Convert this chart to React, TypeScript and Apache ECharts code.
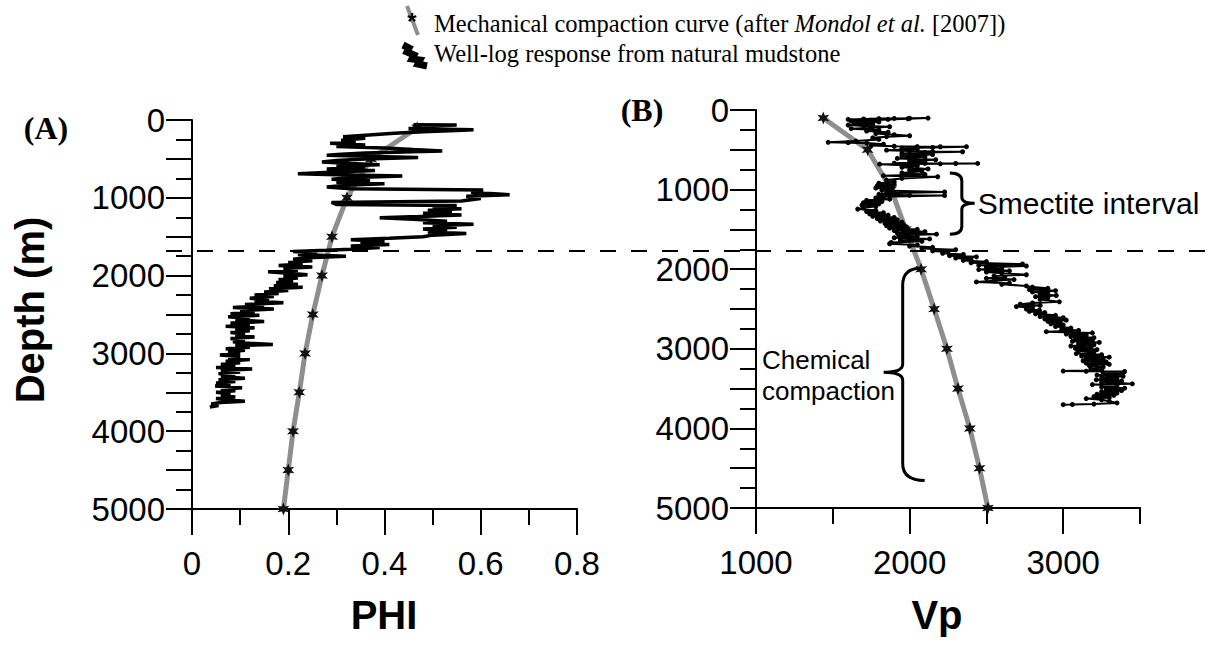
import React, { useEffect, useRef } from "react";
import * as echarts from "echarts";

// ---------- axis ticks / labels ----------
const DEPTH_MAJOR_TICKS = [0, 500, 1000, 1500, 2000, 2500, 3000, 3500, 4000, 4500, 5000];
const DEPTH_MINOR_TICKS = [250, 750, 1250, 1750, 2250, 2750, 3250, 3750, 4250, 4750];
const DEPTH_LABELS = [0, 1000, 2000, 3000, 4000, 5000];
const PHI_MAJOR_TICKS = [0, 0.2, 0.4, 0.6, 0.8];
const PHI_MINOR_TICKS = [0.1, 0.3, 0.5, 0.7];
const PHI_LABELS = [0, 0.2, 0.4, 0.6, 0.8];
const VP_MAJOR_TICKS = [1000, 2000, 3000];
const VP_MINOR_TICKS = [1500, 2500, 3500];
const VP_LABELS = [1000, 2000, 3000];

// ---------- mechanical compaction curve (Mondol et al. 2007) ----------
const COMPACTION_DEPTH = [100, 500, 1000, 1500, 2000, 2500, 3000, 3500, 4000, 4500, 5000];
const COMPACTION_PHI = [0.468, 0.372, 0.322, 0.291, 0.27, 0.251, 0.235, 0.223, 0.21, 0.2, 0.19];
const COMPACTION_VP = [1438, 1727, 1880, 1975, 2075, 2160, 2243, 2315, 2392, 2455, 2510];

// ---------- well-log PHI: [depth, phi] ----------
const WELL_LOG_PHI = [
  [60, 0.46], [65, 0.55], [80, 0.47], [95, 0.5], [110, 0.45], [125, 0.585], [135, 0.55], [150, 0.48],
  [170, 0.42], [195, 0.36], [215, 0.314], [235, 0.36], [260, 0.31], [285, 0.34], [300, 0.287], [320, 0.36],
  [340, 0.3], [360, 0.4], [380, 0.46], [398, 0.52], [410, 0.44], [425, 0.36], [440, 0.31], [452, 0.28],
  [468, 0.38], [482, 0.47], [500, 0.36], [520, 0.3], [540, 0.27], [560, 0.33], [575, 0.39], [590, 0.3],
  [610, 0.36], [630, 0.28], [650, 0.38], [665, 0.31], [690, 0.22], [705, 0.3], [720, 0.437], [740, 0.34],
  [760, 0.29], [780, 0.37], [800, 0.3], [820, 0.4], [840, 0.32], [860, 0.28], [885, 0.33], [900, 0.605],
  [930, 0.58], [960, 0.66], [980, 0.57], [1010, 0.6], [1040, 0.56], [1060, 0.29], [1085, 0.3], [1100, 0.55],
  [1120, 0.5], [1140, 0.56], [1160, 0.49], [1180, 0.54], [1200, 0.48], [1220, 0.56], [1240, 0.47], [1255, 0.39],
  [1275, 0.46], [1300, 0.53], [1320, 0.48], [1340, 0.585], [1360, 0.5], [1380, 0.55], [1400, 0.48], [1420, 0.53],
  [1440, 0.49], [1460, 0.57], [1480, 0.5], [1500, 0.48], [1520, 0.41], [1540, 0.33], [1560, 0.4], [1580, 0.35],
  [1600, 0.41], [1620, 0.33], [1640, 0.39], [1660, 0.33], [1675, 0.28], [1690, 0.21], [1710, 0.26], [1730, 0.22],
  [1750, 0.32], [1770, 0.24], [1790, 0.21], [1810, 0.25], [1830, 0.2], [1850, 0.23], [1870, 0.18], [1890, 0.25],
  [1910, 0.19], [1930, 0.22], [1950, 0.158], [1970, 0.2], [1990, 0.24], [2010, 0.19], [2030, 0.22], [2050, 0.18],
  [2070, 0.21], [2090, 0.175], [2110, 0.22], [2130, 0.17], [2150, 0.23], [2170, 0.16], [2190, 0.2], [2210, 0.15],
  [2230, 0.18], [2250, 0.13], [2270, 0.17], [2290, 0.12], [2310, 0.16], [2330, 0.13], [2350, 0.19], [2370, 0.11],
  [2390, 0.15], [2410, 0.085], [2430, 0.17], [2450, 0.1], [2470, 0.13], [2490, 0.08], [2510, 0.14], [2530, 0.075],
  [2550, 0.12], [2570, 0.09], [2590, 0.15], [2610, 0.08], [2630, 0.12], [2650, 0.07], [2670, 0.13], [2690, 0.09],
  [2710, 0.12], [2730, 0.08], [2750, 0.11], [2770, 0.09], [2790, 0.13], [2810, 0.08], [2830, 0.11], [2850, 0.085],
  [2870, 0.12], [2885, 0.168], [2900, 0.09], [2920, 0.12], [2940, 0.07], [2960, 0.11], [2980, 0.075], [3000, 0.1],
  [3020, 0.058], [3040, 0.1], [3060, 0.075], [3080, 0.12], [3100, 0.07], [3120, 0.1], [3140, 0.06], [3160, 0.09],
  [3180, 0.05], [3200, 0.125], [3220, 0.06], [3240, 0.1], [3260, 0.055], [3280, 0.09], [3300, 0.06], [3320, 0.11],
  [3340, 0.055], [3360, 0.09], [3380, 0.05], [3400, 0.08], [3420, 0.048], [3440, 0.104], [3460, 0.06], [3480, 0.09],
  [3500, 0.05], [3520, 0.08], [3540, 0.06], [3560, 0.09], [3580, 0.05], [3600, 0.075], [3615, 0.11], [3630, 0.06],
  [3650, 0.04], [3670, 0.055], [3690, 0.037],
];

// ---------- well-log Vp: [depth, vp] ----------
const WELL_LOG_VP = [
  [118, 1600], [112, 1700], [108, 1800], [106, 1900], [104, 2000], [102, 2120], [110, 1990], [118, 1860],
  [128, 1750], [140, 1620], [150, 1800], [160, 1640], [175, 1760], [190, 1600], [200, 1700], [210, 1870],
  [222, 1750], [235, 1620], [250, 1800], [265, 1720], [280, 1860], [295, 1780], [310, 1900], [323, 2000],
  [335, 1850], [350, 1760], [370, 1800], [390, 1650], [406, 1470], [410, 1600], [415, 1720], [430, 1830],
  [445, 1750], [455, 1900], [460, 2050], [462, 2200], [461, 2370], [470, 2150], [478, 1950], [490, 2050],
  [505, 1850], [515, 2000], [520, 2150], [524, 2345], [535, 2100], [545, 1950], [560, 2150], [575, 1950],
  [590, 2100], [608, 1920], [625, 2170], [640, 2000], [655, 2100], [668, 1900], [671, 2100], [672, 2300],
  [671, 2443], [676, 2200], [680, 1805], [700, 2050], [720, 1950], [740, 2120], [755, 2000], [770, 2080],
  [790, 1950], [810, 2100], [825, 1830], [839, 2183], [860, 1950], [880, 1850], [900, 1900], [920, 1800],
  [935, 1900], [950, 1790], [965, 1880], [980, 1780], [995, 1870], [1010, 1820], [1030, 2228], [1045, 1850],
  [1060, 1800], [1072, 2000], [1075, 2228], [1090, 1820], [1105, 1780], [1120, 1870], [1135, 1720], [1150, 1820],
  [1165, 1700], [1180, 1800], [1195, 1690], [1210, 1780], [1230, 1700], [1245, 1662], [1260, 1780], [1275, 1720],
  [1290, 1830], [1305, 1740], [1320, 1860], [1335, 1760], [1350, 1900], [1365, 1790], [1380, 1920], [1395, 1810],
  [1410, 1950], [1425, 1840], [1440, 1960], [1455, 1850], [1470, 1980], [1485, 1870], [1500, 2050], [1515, 1900],
  [1530, 2100], [1545, 1920], [1560, 2175], [1575, 1930], [1590, 2050], [1605, 1900], [1620, 2130], [1635, 1940],
  [1650, 2080], [1665, 1880], [1680, 1870], [1695, 2050], [1710, 2000], [1725, 2150], [1740, 2080], [1755, 2300],
  [1770, 2150], [1785, 2250], [1800, 2215], [1815, 2350], [1830, 2260], [1845, 2435], [1860, 2300], [1875, 2400],
  [1890, 2350], [1905, 2500], [1920, 2400], [1935, 2735], [1950, 2450], [1960, 2760], [1975, 2500], [1990, 2600],
  [2005, 2450], [2020, 2650], [2035, 2500], [2050, 2600], [2070, 2760], [2085, 2550], [2100, 2620], [2115, 2500],
  [2130, 2680], [2145, 2550], [2160, 2435], [2175, 2650], [2190, 2600], [2210, 2760], [2225, 2800], [2240, 2900],
  [2255, 2780], [2270, 2950], [2285, 2800], [2300, 2900], [2315, 2850], [2330, 2955], [2345, 2820], [2360, 2900],
  [2380, 2850], [2410, 2975], [2425, 2800], [2440, 2720], [2455, 2850], [2470, 2695], [2485, 2800], [2500, 2760],
  [2515, 2845], [2530, 2780], [2545, 2880], [2560, 2820], [2580, 2950], [2595, 2850], [2610, 3000], [2625, 2880],
  [2640, 3020], [2655, 2900], [2670, 2980], [2685, 2920], [2700, 3000], [2720, 2950], [2740, 3050], [2755, 2990],
  [2770, 3100], [2785, 2890], [2800, 3190], [2815, 3020], [2830, 3150], [2845, 3050], [2860, 3200], [2875, 3080],
  [2890, 3190], [2905, 3060], [2920, 3235], [2935, 3100], [2950, 3200], [2965, 3050], [2980, 3180], [2995, 3080],
  [3010, 3220], [3025, 3100], [3040, 3200], [3060, 3085], [3075, 3250], [3090, 3120], [3105, 3300], [3120, 3150],
  [3135, 3260], [3150, 3130], [3165, 3280], [3180, 3150], [3195, 3300], [3210, 3170], [3230, 3260], [3250, 3180],
  [3265, 3250], [3280, 3000], [3282, 3150], [3285, 3400], [3300, 3260], [3315, 3380], [3330, 3220], [3345, 3390],
  [3360, 3250], [3375, 3350], [3390, 3215], [3405, 3380], [3420, 3250], [3440, 3450], [3450, 3190], [3465, 3350],
  [3480, 3250], [3495, 3400], [3510, 3280], [3525, 3380], [3540, 3250], [3555, 3350], [3570, 3220], [3585, 3330],
  [3600, 3200], [3615, 3300], [3625, 3150], [3640, 3250], [3660, 3300], [3680, 3350], [3695, 3200], [3700, 3060],
  [3702, 3000],
];

// ---------- annotations (data units) ----------
const DASHED_DEPTH_A = 1685;
const SMECTITE_BRACE = { top: 790, mid: 1170, bottom: 1560, vp: 2340, hookVp: 2262, tipVp: 2424 };
const CHEMICAL_BRACE = { top: 1987, mid: 3296, bottom: 4654, vp: 1955, hookTopVp: 2072, hookBottomVp: 2098, tipVp: 1831 };

const SANS = "Liberation Sans, Arial, Helvetica, sans-serif";
const SERIF = "Liberation Serif, Times New Roman, Times, serif";
const STAR =
  "path://M0,-1L0.225,-0.39L0.866,-0.5L0.45,0L0.866,0.5L0.225,0.39L0,1L-0.225,0.39L-0.866,0.5L-0.45,0L-0.866,-0.5L-0.225,-0.39Z";
const GRAY = "#8e8e8e";
const plain = (v: number) => String(v);

function mainAxis(gridIndex: number, position: string, min: number, max: number, ticks: number[], labels: number[], margin: number, extra: any) {
  return {
    type: "value",
    gridIndex,
    position,
    min,
    max,
    offset: 0,
    axisLine: { show: true, onZero: false, lineStyle: { color: "#000", width: 2 } },
    axisTick: { show: true, inside: false, customValues: ticks, length: 26, lineStyle: { color: "#000", width: 2 } },
    axisLabel: { show: true, customValues: labels, fontSize: 33, color: "#000", fontFamily: SANS, margin, formatter: plain },
    splitLine: { show: false },
    ...extra,
  };
}
function minorAxis(gridIndex: number, position: string, min: number, max: number, ticks: number[], extra: any) {
  return {
    type: "value",
    gridIndex,
    position,
    min,
    max,
    offset: 0,
    axisLine: { show: false, onZero: false },
    axisTick: { show: true, inside: false, customValues: ticks, length: 16, lineStyle: { color: "#000", width: 2 } },
    axisLabel: { show: false },
    splitLine: { show: false },
    ...extra,
  };
}

function bracePath(xe1: number, xe2: number, xv: number, xt: number, yt: number, ym: number, yb: number, r: number, r2: number) {
  return (
    `M${xe1},${yt} Q${xv},${yt} ${xv},${yt + r} L${xv},${ym - r2} Q${xv},${ym} ${xt},${ym} ` +
    `Q${xv},${ym} ${xv},${ym + r2} L${xv},${yb - r} Q${xv},${yb} ${xe2},${yb}`
  );
}

export default function App() {
  const ref = useRef<HTMLDivElement>(null);
  useEffect(() => {
    if (!ref.current) return;
    const chart = echarts.init(ref.current, undefined, { renderer: "svg" });
    chart.setOption({
      animation: false,
      backgroundColor: "#fff",
      grid: [
        { left: 192, top: 120, right: 635, bottom: 136 },
        { left: 756, top: 110, right: 72, bottom: 137 },
      ],
      xAxis: [
        mainAxis(0, "bottom", 0, 0.8, PHI_MAJOR_TICKS, PHI_LABELS, 38, {}),
        minorAxis(0, "bottom", 0, 0.8, PHI_MINOR_TICKS, {}),
        mainAxis(1, "bottom", 1000, 3500, VP_MAJOR_TICKS, VP_LABELS, 38, {}),
        minorAxis(1, "bottom", 1000, 3500, VP_MINOR_TICKS, {}),
      ],
      yAxis: [
        mainAxis(0, "left", 0, 5000, DEPTH_MAJOR_TICKS, DEPTH_LABELS, 27, { inverse: true }),
        minorAxis(0, "left", 0, 5000, DEPTH_MINOR_TICKS, { inverse: true }),
        mainAxis(1, "left", 0, 5000, DEPTH_MAJOR_TICKS, DEPTH_LABELS, 27, { inverse: true }),
        minorAxis(1, "left", 0, 5000, DEPTH_MINOR_TICKS, { inverse: true }),
      ],
      series: [
        {
          name: "Mechanical compaction curve",
          type: "line",
          xAxisIndex: 0,
          yAxisIndex: 0,
          data: COMPACTION_DEPTH.map((d, i) => [COMPACTION_PHI[i], d]),
          lineStyle: { color: GRAY, width: 5 },
          symbol: STAR,
          symbolSize: [12, 13],
          itemStyle: { color: "#111" },
          z: 2,
        },
        {
          name: "Well-log PHI",
          type: "line",
          xAxisIndex: 0,
          yAxisIndex: 0,
          data: WELL_LOG_PHI.map(([d, v]) => [v, d]),
          symbol: "none",
          lineStyle: { color: "#000", width: 3.5 },
          z: 3,
        },
        {
          name: "Mechanical compaction curve Vp",
          type: "line",
          xAxisIndex: 2,
          yAxisIndex: 2,
          data: COMPACTION_DEPTH.map((d, i) => [COMPACTION_VP[i], d]),
          lineStyle: { color: GRAY, width: 5 },
          symbol: STAR,
          symbolSize: [12, 13],
          itemStyle: { color: "#111" },
          z: 2,
        },
        {
          name: "Well-log Vp",
          type: "line",
          xAxisIndex: 2,
          yAxisIndex: 2,
          data: WELL_LOG_VP.map(([d, v]) => [v, d]),
          symbol: "circle",
          symbolSize: 5,
          itemStyle: { color: "#000" },
          lineStyle: { color: "#000", width: 2 },
          z: 3,
        },
      ],
    });

    const pA = (x: number, y: number) => chart.convertToPixel({ xAxisIndex: 0, yAxisIndex: 0 }, [x, y]) as number[];
    const pB = (x: number, y: number) => chart.convertToPixel({ xAxisIndex: 2, yAxisIndex: 2 }, [x, y]) as number[];

    const dashY = pA(0, DASHED_DEPTH_A)[1];

    const s = SMECTITE_BRACE;
    const sTop = pB(s.hookVp, s.top);
    const sMid = pB(s.tipVp, s.mid);
    const sBot = pB(s.hookVp, s.bottom);
    const sV = pB(s.vp, s.mid);
    echarts.graphic.registerShape(
      "braceSmectite",
      echarts.graphic.extendPath(bracePath(sTop[0], sBot[0], sV[0], sMid[0], sTop[1], sMid[1], sBot[1], 8, 6), {})
    );
    const c = CHEMICAL_BRACE;
    const cTop = pB(c.hookTopVp, c.top);
    const cBot = pB(c.hookBottomVp, c.bottom);
    const cMid = pB(c.tipVp, c.mid);
    const cV = pB(c.vp, c.mid);
    echarts.graphic.registerShape(
      "braceChemical",
      echarts.graphic.extendPath(bracePath(cTop[0], cBot[0], cV[0], cMid[0], cTop[1], cMid[1], cBot[1], 17, 8), {})
    );

    chart.setOption({
      graphic: [
        {
          type: "line",
          shape: { x1: 166, y1: dashY, x2: 1212, y2: dashY },
          style: { stroke: "#000", lineWidth: 2, lineDash: [16, 15] },
          z: 10,
        },
        { type: "braceSmectite", x: 0, y: 0, style: { fill: "none", stroke: "#000", lineWidth: 3 }, z: 10 },
        { type: "braceChemical", x: 0, y: 0, style: { fill: "none", stroke: "#000", lineWidth: 3 }, z: 10 },
        {
          type: "text",
          x: sMid[0] + 3,
          y: sMid[1],
          style: { text: "Smectite interval", fontSize: 30, fontFamily: SANS, fill: "#000", align: "left", verticalAlign: "middle" },
          z: 10,
        },
        {
          type: "text",
          x: 762,
          y: cMid[1] + 3,
          style: {
            text: "Chemical\ncompaction",
            fontSize: 26,
            lineHeight: 31,
            fontFamily: SANS,
            fill: "#000",
            align: "left",
            verticalAlign: "middle",
          },
          z: 10,
        },
        {
          type: "text",
          x: 30,
          y: 310,
          rotation: Math.PI / 2,
          style: { text: "Depth (m)", fontSize: 40, fontWeight: "bold", fontFamily: SANS, fill: "#000", align: "center", verticalAlign: "middle" },
        },
        {
          type: "text",
          x: 384,
          y: 615,
          style: { text: "PHI", fontSize: 40, fontWeight: "bold", fontFamily: SANS, fill: "#000", align: "center", verticalAlign: "middle" },
        },
        {
          type: "text",
          x: 937,
          y: 615,
          style: { text: "Vp", fontSize: 40, fontWeight: "bold", fontFamily: SANS, fill: "#000", align: "center", verticalAlign: "middle" },
        },
        {
          type: "text",
          x: 46,
          y: 128,
          style: { text: "(A)", fontSize: 32, fontWeight: "bold", fontFamily: SERIF, fill: "#000", align: "center", verticalAlign: "middle" },
        },
        {
          type: "text",
          x: 642,
          y: 110,
          style: { text: "(B)", fontSize: 32, fontWeight: "bold", fontFamily: SERIF, fill: "#000", align: "center", verticalAlign: "middle" },
        },
        // legend
        {
          type: "line",
          shape: { x1: 407, y1: 6, x2: 418, y2: 35 },
          style: { stroke: GRAY, lineWidth: 4 },
        },
        {
          type: "text",
          x: 412,
          y: 21,
          style: { text: "*", fontSize: 24, fontWeight: "bold", fontFamily: SANS, fill: "#000", align: "center", verticalAlign: "middle" },
        },
        {
          type: "polyline",
          shape: { points: [[403, 45], [409, 48], [407, 52], [414, 55], [412, 59], [420, 60], [418, 64], [427, 66]] },
          style: { stroke: "#000", lineWidth: 7, fill: "none" },
        },
        {
          type: "text",
          x: 434,
          y: 23,
          style: {
            text: "{n|Mechanical compaction curve (after }{i|Mondol et al.}{n| [2007])}",
            rich: {
              n: { fontSize: 24.5, fontFamily: SERIF, fill: "#000", color: "#000" },
              i: { fontSize: 24.5, fontFamily: SERIF, fontStyle: "italic", fill: "#000", color: "#000" },
            },
            align: "left",
            verticalAlign: "middle",
          },
        },
        {
          type: "text",
          x: 434,
          y: 53,
          style: { text: "Well-log response from natural mudstone", fontSize: 24.5, fontFamily: SERIF, fill: "#000", align: "left", verticalAlign: "middle" },
        },
      ],
    });

    return () => chart.dispose();
  }, []);
  return (
    <div
      ref={ref}
      style={{ position: "absolute", left: 0, top: 0, width: 1212, height: 645, background: "#fff" }}
    />
  );
}
